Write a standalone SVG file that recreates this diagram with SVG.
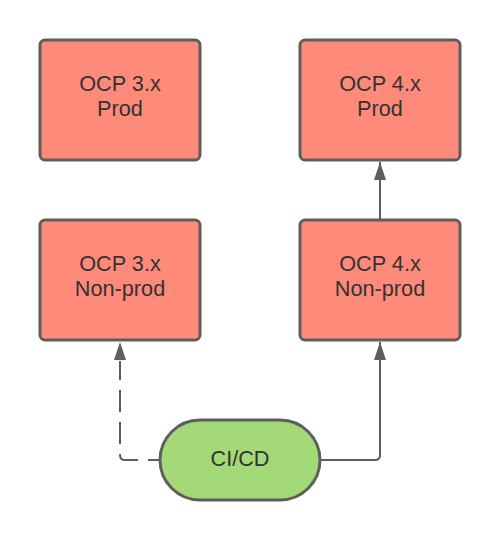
<svg xmlns="http://www.w3.org/2000/svg" width="500" height="540" viewBox="0 0 500 540">
<defs>
<style>
.box{fill:#FF8A7A;stroke:#5E5E5E;stroke-width:3}
.pill{fill:#A3D977;stroke:#5E5E5E;stroke-width:3}
.lbl{font-family:"Liberation Sans",Arial,sans-serif;font-size:21.7px;fill:#333333;text-anchor:middle}
.edge{fill:none;stroke:#5E5E5E;stroke-width:2}
.dash{stroke-dasharray:22 10}
</style>
<marker id="arr" viewBox="0 0 18 12" refX="18" refY="6" markerWidth="18" markerHeight="12" markerUnits="userSpaceOnUse" orient="auto">
<path d="M0,0 L18,6 L0,12 Z" fill="#5E5E5E"/>
</marker>
</defs>
<rect width="500" height="540" fill="#FFFFFF"/>
<g id="connectors">
<path class="edge" d="M380,220 L380,162" marker-end="url(#arr)"/>
<path class="edge" d="M320,460 L375,460 Q380,460 380,455 L380,342" marker-end="url(#arr)"/>
<path class="edge dash" stroke-dashoffset="10" d="M160,460 L125,460 Q120,460 120,455 L120,361"/>
<path d="M114,360 L120,342 L126,360 Z" fill="#5E5E5E"/>
</g>
<g id="ocp3-prod">
<rect class="box" x="40" y="40" width="160" height="120" rx="5"/>
<text class="lbl" x="120" y="90.8">OCP 3.x</text>
<text class="lbl" x="120" y="115.8">Prod</text>
</g>
<g id="ocp4-prod">
<rect class="box" x="300" y="40" width="160" height="120" rx="5"/>
<text class="lbl" x="380" y="90.8">OCP 4.x</text>
<text class="lbl" x="380" y="115.8">Prod</text>
</g>
<g id="ocp3-nonprod">
<rect class="box" x="40" y="220" width="160" height="120" rx="5"/>
<text class="lbl" x="120" y="270.8">OCP 3.x</text>
<text class="lbl" x="120" y="295.8">Non-prod</text>
</g>
<g id="ocp4-nonprod">
<rect class="box" x="300" y="220" width="160" height="120" rx="5"/>
<text class="lbl" x="380" y="270.8">OCP 4.x</text>
<text class="lbl" x="380" y="295.8">Non-prod</text>
</g>
<g id="cicd">
<rect class="pill" x="160" y="420" width="160" height="80" rx="40"/>
<text class="lbl" x="240" y="465.5">CI/CD</text>
</g>
</svg>
